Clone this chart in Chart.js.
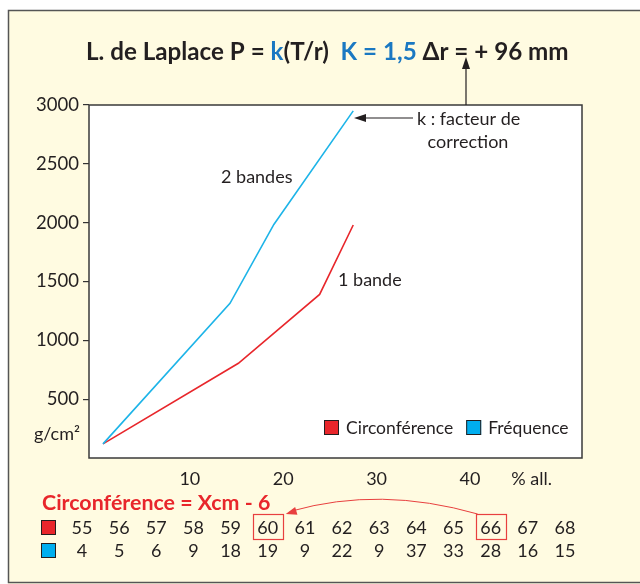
<!DOCTYPE html>
<html>
<head>
<meta charset="utf-8">
<script src="https://cdn.jsdelivr.net/npm/chart.js@4.4.1/dist/chart.umd.min.js"></script>
<style>
  html, body { margin: 0; padding: 0; background: #fff; }
  #wrap { width: 640px; height: 584px; }
</style>
</head>
<body>
<div id="wrap"><canvas id="chartLaplace" width="640" height="584"></canvas></div>
<script>
// courbes : x = % allongement, y = pression g/cm2
const pct2bandes = [0.7, 14.3, 19.0, 27.5];
const press2bandes = [120, 1315, 1985, 2950];
const pct1bande = [0.7, 15.2, 23.9, 27.5];
const press1bande = [120, 805, 1390, 1980];

const yTicks = [500, 1000, 1500, 2000, 2500, 3000];
const xTicks = [10, 20, 30, 40];

// tableau du bas
const circonf = [55, 56, 57, 58, 59, 60, 61, 62, 63, 64, 65, 66, 67, 68];
const frequence = [4, 5, 6, 9, 18, 19, 9, 22, 9, 37, 33, 28, 16, 15];
const rowNames = ['Circonférence', 'Fréquence'];
const boxedCols = [60, 66];

const RED = '#e8262b';
const BLUE = '#1db4e8';
const TITLE_BLUE = '#1a78c2';
const DARK = '#231f20';
const CREAM = '#fffbe1';
const FONT = 'Lato, "DejaVu Sans", sans-serif';

function toPoints(xs, ys) {
  return xs.map((x, i) => ({ x: x, y: ys[i] }));
}

function arrowHead(ctx, tipX, tipY, fromX, fromY, len, half) {
  const a = Math.atan2(tipY - fromY, tipX - fromX);
  ctx.beginPath();
  ctx.moveTo(tipX, tipY);
  ctx.lineTo(tipX - len * Math.cos(a) + half * Math.sin(a), tipY - len * Math.sin(a) - half * Math.cos(a));
  ctx.lineTo(tipX - len * Math.cos(a) - half * Math.sin(a), tipY - len * Math.sin(a) + half * Math.cos(a));
  ctx.closePath();
  ctx.fill();
}

// taille de police pour qu'un texte occupe la largeur voulue
function fitSize(ctx, text, weight, base, width) {
  ctx.font = weight + ' ' + base + 'px ' + FONT;
  return base * width / ctx.measureText(text).width;
}

const decor = {
  id: 'decor',
  beforeDraw(chart) {
    const ctx = chart.ctx;
    const a = chart.chartArea;
    ctx.save();
    ctx.fillStyle = '#fff';
    ctx.fillRect(0, 0, 640, 584);
    ctx.fillStyle = CREAM;
    ctx.fillRect(8, 10, 640, 574);
    ctx.strokeStyle = '#555';
    ctx.lineWidth = 1.5;
    ctx.strokeRect(8.5, 10.5, 660, 572);
    ctx.fillStyle = '#fff';
    ctx.fillRect(a.left, a.top, a.right - a.left, a.bottom - a.top);
    ctx.restore();
  },
  afterDatasetsDraw(chart) {
    const ctx = chart.ctx;
    const a = chart.chartArea;
    ctx.save();
    ctx.strokeStyle = '#3a3a3a';
    ctx.lineWidth = 1.5;
    ctx.strokeRect(a.left, a.top, a.right - a.left, a.bottom - a.top);

    // légende
    ctx.font = '17.5px ' + FONT;
    ctx.textBaseline = 'middle';
    ctx.textAlign = 'left';
    const legCols = [RED, '#00aeef'];
    let lx = 324;
    rowNames.forEach((name, i) => {
      ctx.fillStyle = legCols[i];
      ctx.fillRect(lx, 420, 15, 15);
      ctx.strokeStyle = DARK;
      ctx.lineWidth = 1;
      ctx.strokeRect(lx + 0.5, 420.5, 14, 14);
      ctx.fillStyle = DARK;
      ctx.fillText(name, lx + 22, 428);
      lx += 22 + ctx.measureText(name).width + 13;
    });

    // annotations
    ctx.font = '18px ' + FONT;
    ctx.fillText('2 bandes', 221, 177);
    ctx.fillText('1 bande', 338, 280);
    ctx.fillText('k : facteur de', 417, 119);
    ctx.textAlign = 'center';
    ctx.fillText('correction', 468, 142);

    ctx.strokeStyle = DARK;
    ctx.fillStyle = DARK;
    ctx.lineWidth = 1.2;
    ctx.beginPath();
    ctx.moveTo(413, 118);
    ctx.lineTo(364, 118);
    ctx.stroke();
    arrowHead(ctx, 354, 118, 413, 118, 12, 4);
    ctx.beginPath();
    ctx.moveTo(466, 105);
    ctx.lineTo(466, 66);
    ctx.stroke();
    arrowHead(ctx, 466, 57, 466, 105, 12, 4);
    ctx.restore();
  },
  afterDraw(chart) {
    const ctx = chart.ctx;
    ctx.save();
    // titre
    const parts = [
      ['L. de Laplace P = ', DARK],
      ['k', TITLE_BLUE],
      ['(T/r)  ', DARK],
      ['K = 1,5 ', TITLE_BLUE],
      ['\u0394r = + 96 mm', DARK]
    ];
    const size = fitSize(ctx, parts.map(p => p[0]).join(''), 'bold', 20, 482);
    ctx.font = 'bold ' + size.toFixed(1) + 'px ' + FONT;
    ctx.textBaseline = 'middle';
    ctx.textAlign = 'left';
    let tx = 86;
    parts.forEach(p => {
      ctx.fillStyle = p[1];
      ctx.fillText(p[0], tx, 52);
      tx += ctx.measureText(p[0]).width;
    });

    // unités
    ctx.font = '18px ' + FONT;
    ctx.fillStyle = DARK;
    ctx.textAlign = 'right';
    ctx.fillText('g/cm\u00b2', 80, 434);
    ctx.textAlign = 'center';
    ctx.fillText('% all.', chart.scales.x.getPixelForValue(46.6), 479);

    // tableau
    const tTitle = 'Circonférence = Xcm - 6';
    const tSize = fitSize(ctx, tTitle, 'bold', 19, 228);
    ctx.font = 'bold ' + tSize.toFixed(1) + 'px ' + FONT;
    ctx.fillStyle = RED;
    ctx.textAlign = 'left';
    ctx.fillText(tTitle, 42, 503);

    const colX = i => 82 + i * 37.15;
    const rows = [circonf, frequence];
    const sq = [RED, '#00aeef'];
    const rowY = [528, 551];
    ctx.font = '18px ' + FONT;
    ctx.textAlign = 'center';
    rows.forEach((row, r) => {
      ctx.fillStyle = sq[r];
      ctx.fillRect(41, rowY[r] - 8, 15, 15);
      ctx.strokeStyle = DARK;
      ctx.lineWidth = 1;
      ctx.strokeRect(41.5, rowY[r] - 7.5, 14, 14);
      ctx.fillStyle = DARK;
      row.forEach((v, i) => ctx.fillText(String(v), colX(i), rowY[r]));
    });

    ctx.strokeStyle = '#e8403f';
    ctx.lineWidth = 1.2;
    boxedCols.forEach(v => {
      const cx = colX(circonf.indexOf(v));
      ctx.strokeRect(Math.round(cx - 15) + 0.5, 514.5, 30, 25);
    });
    const fromX = colX(circonf.indexOf(66)) - 13;
    const toX = colX(circonf.indexOf(60)) + 18;
    ctx.lineWidth = 1;
    ctx.beginPath();
    ctx.moveTo(fromX, 514);
    ctx.quadraticCurveTo(380, 486, toX + 6, 511);
    ctx.stroke();
    ctx.fillStyle = '#e8403f';
    arrowHead(ctx, toX, 514, 380, 486, 11, 4);
    ctx.restore();
  }
};

new Chart(document.getElementById('chartLaplace'), {
  type: 'scatter',
  data: {
    datasets: [
      {
        label: '2 bandes',
        data: toPoints(pct2bandes, press2bandes),
        borderColor: BLUE,
        backgroundColor: BLUE,
        borderWidth: 1.6,
        showLine: true,
        pointRadius: 0,
        tension: 0
      },
      {
        label: '1 bande',
        data: toPoints(pct1bande, press1bande),
        borderColor: RED,
        backgroundColor: RED,
        borderWidth: 1.6,
        showLine: true,
        pointRadius: 0,
        tension: 0
      }
    ]
  },
  options: {
    responsive: false,
    devicePixelRatio: 1,
    animation: false,
    events: [],
    layout: { padding: { left: 0, top: 105, right: 58, bottom: 76 } },
    plugins: {
      legend: { display: false },
      tooltip: { enabled: false },
      title: { display: false }
    },
    scales: {
      x: {
        type: 'linear',
        min: -0.8,
        max: 52,
        afterBuildTicks: s => { s.ticks = xTicks.map(v => ({ value: v })); },
        afterFit: s => { s.height = 50; },
        grid: { display: false },
        border: { display: false },
        ticks: { padding: 2, color: DARK, font: { family: FONT, size: 18 }, maxRotation: 0, callback: v => String(v) }
      },
      y: {
        type: 'linear',
        min: 0,
        max: 3000,
        afterBuildTicks: s => { s.ticks = yTicks.map(v => ({ value: v })); },
        afterFit: s => { s.width = 89; },
        grid: { drawOnChartArea: false, drawTicks: true, tickLength: 6, color: '#333', lineWidth: 1.2 },
        border: { display: false },
        ticks: { padding: 4, color: DARK, font: { family: FONT, size: 18.5 }, callback: v => String(v) }
      }
    }
  },
  plugins: [decor]
});
</script>
</body>
</html>
